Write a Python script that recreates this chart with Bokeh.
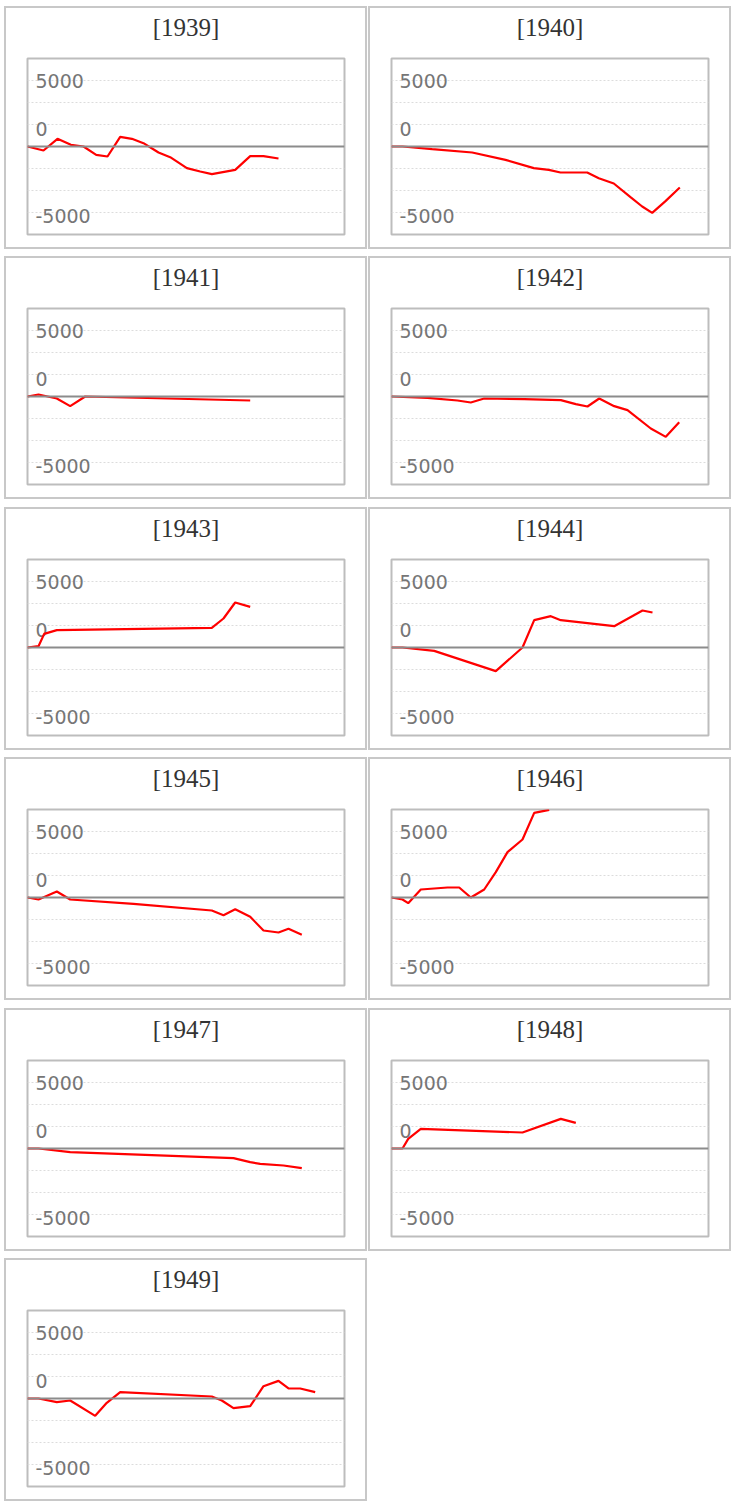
from bokeh.plotting import figure
from bokeh.layouts import row, column
from bokeh.models import Range1d, Grid, FixedTicker, Span, ColumnDataSource, Spacer
from bokeh.core.properties import value
from bokeh.embed import file_html
from bokeh.resources import INLINE

years = ["1939", "1940", "1941", "1942", "1943", "1944", "1945", "1946", "1947", "1948", "1949"]

x_1939 = [0, 16, 30, 43.4, 56, 68.7, 80, 92.7, 104.4, 116, 131, 142.7, 159.4, 172.7, 184.4, 207.7, 222.7, 236, 251]
y_1939 = [0, -303, 581, 126, 0, -631, -758, 732, 581, 253, -455, -808, -1641, -1894, -2096, -1768, -732, -732, -909]

x_1940 = [0, 11, 40.7, 80.7, 114, 142.3, 157.3, 169, 195.7, 207.3, 222.3, 239, 250.7, 260.7, 274, 288.3]
y_1940 = [0, 0, -202, -455, -1010, -1641, -1768, -1970, -1970, -2399, -2803, -3838, -4545, -5025, -4141, -3106]

x_1941 = [0, 11, 29.3, 42.7, 57.7, 222.7]
y_1941 = [0, 152, -152, -732, 0, -303]

x_1942 = [0, 36, 66, 79.3, 92.7, 132.7, 169.3, 184.3, 196, 207.7, 222.7, 236, 259.3, 274.3, 287.7]
y_1942 = [0, -101, -303, -455, -152, -202, -278, -581, -758, -152, -732, -1035, -2424, -3056, -1944]

x_1943 = [0, 11, 16.7, 29.3, 184.3, 196, 207.7, 222.7]
y_1943 = [0, 101, 1035, 1313, 1490, 2197, 3409, 3081]

x_1944 = [0, 11, 42.7, 104.3, 131, 142.7, 159.3, 169.3, 222.7, 251, 261]
y_1944 = [0, 0, -253, -1793, 0, 2071, 2374, 2071, 1616, 2803, 2652]

x_1945 = [0, 11, 29.3, 42.7, 106, 184.3, 196, 207.7, 222.7, 236, 251, 261, 274.3]
y_1945 = [0, -152, 455, -152, -480, -985, -1338, -884, -1465, -2500, -2652, -2374, -2828]

x_1946 = [0, 11, 16.7, 29.3, 56, 67.7, 79.3, 92.7, 104.3, 116, 131, 142.7, 157.7]
y_1946 = [0, -152, -429, 606, 758, 758, 0, 606, 1919, 3434, 4394, 6414, 6640]

x_1947 = [0, 11, 42.7, 206, 222.7, 232.7, 256, 274.3]
y_1947 = [0, 0, -278, -732, -1035, -1162, -1288, -1490]

x_1948 = [0, 11, 16.7, 29.3, 131, 169.3, 184.3]
y_1948 = [0, 0, 732, 1490, 1212, 2247, 1944]

x_1949 = [0, 11, 29.3, 42.7, 67.7, 79.3, 92.7, 184.3, 194.3, 206, 222.7, 236, 251, 261, 272.7, 287.7]
y_1949 = [0, 0, -278, -152, -1313, -328, 480, 152, -152, -732, -581, 934, 1338, 758, 758, 480]

grid_ticks = [-5000, -3333.33, -1666.67, 1666.67, 3333.33, 5000]
label_values = [5000, 1666.67, -5000]
label_texts = ["5000", "0", "-5000"]
label_nudge = [0, 4, 4]

series = {
    "1939": (x_1939, y_1939), "1940": (x_1940, y_1940), "1941": (x_1941, y_1941),
    "1942": (x_1942, y_1942), "1943": (x_1943, y_1943), "1944": (x_1944, y_1944),
    "1945": (x_1945, y_1945), "1946": (x_1946, y_1946), "1947": (x_1947, y_1947),
    "1948": (x_1948, y_1948), "1949": (x_1949, y_1949),
}


def make_panel(year):
    xs, ys = series[year]
    p = figure(width=363, height=243, output_backend="svg", toolbar_location=None,
               x_axis_type=None, y_axis_type=None,
               x_range=Range1d(0, 317), y_range=Range1d(-6667, 6667),
               min_border_left=21, min_border_right=25,
               min_border_top=50, min_border_bottom=17,
               background_fill_color="white", border_fill_color="white")
    p.styles = {"border": "2px solid #c8c8c8"}
    p.outline_line_color = "#bdbdbd"
    p.outline_line_width = 2
    p.title.text = "[" + year + "]"
    p.title.align = "center"
    p.title.vertical_align = "bottom"
    p.title.text_font = "Liberation Serif"
    p.title.text_font_size = "25px"
    p.title.text_font_style = "normal"
    p.title.text_color = "#333333"
    p.title.standoff = 0
    p.title.padding = {"left": 0, "right": 0, "top": 0, "bottom": 18}
    g = Grid(dimension=1, ticker=FixedTicker(ticks=grid_ticks),
             grid_line_color="#dcdcdc", grid_line_dash="2 2", grid_line_width=1)
    p.add_layout(g, "center")
    p.add_layout(Span(location=0, dimension="width", line_color="#8c8c8c", line_width=2))
    src = ColumnDataSource(dict(x=[0] * len(label_values), y=label_values,
                                t=label_texts, dy=label_nudge))
    p.text(x="x", y="y", text="t", source=src, x_offset=8, y_offset="dy",
           text_font=value("DejaVu Sans"), text_font_size="19px", text_color="#767676",
           text_align="left", text_baseline="middle")
    p.line(xs, ys, line_color="red", line_width=2.2)
    return p


panels = [make_panel(y) for y in years]
items = [Spacer(height=6)]
gaps = [7, 8, 7, 8, 7]
for k, i in enumerate(range(0, len(panels), 2)):
    if i + 1 < len(panels):
        items.append(row(Spacer(width=4), panels[i], Spacer(width=1), panels[i + 1]))
    else:
        items.append(row(Spacer(width=4), panels[i]))
    if k < len(gaps):
        items.append(Spacer(height=gaps[k]))
layout = column(*items)

open("out.html", "w").write(file_html(layout, INLINE))
